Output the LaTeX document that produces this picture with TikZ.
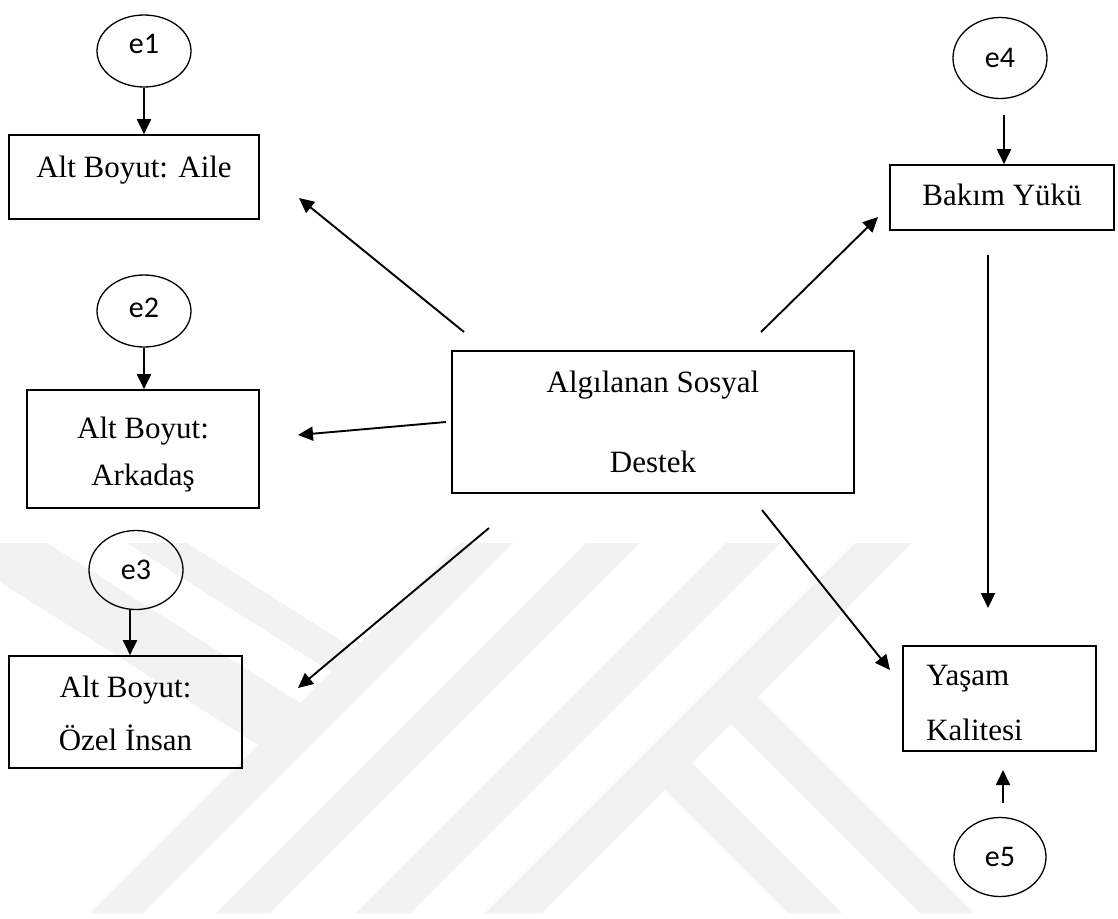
\documentclass[tikz,border=0pt]{standalone}
\usepackage{fontspec}
\setmainfont{Liberation Serif}
\newfontfamily\calib{Carlito}
\usetikzlibrary{arrows.meta,shapes.geometric}
\begin{document}
\begin{tikzpicture}[x=1pt,y=-1pt,
  box/.style={draw, line width=1.6pt, inner sep=0pt, font=\fontsize{31}{37}\selectfont},
  err/.style={draw, ellipse, line width=1.3pt, inner sep=0pt, font=\calib\fontsize{30}{34}\selectfont},
  arr/.style={line width=1.9pt, -{Triangle[length=15pt,width=14pt]}},
  wm/.style={fill=black!5, draw=none}
]
\useasboundingbox (0,0) rectangle (1118,918);
% watermark (faint logo)
\fill[wm] (0,543) -- (47,543) -- (313,711) -- (271,753) -- (0,582) -- cycle;
\fill[wm] (127,543) -- (187,543) -- (367,657) -- (344,680) -- cycle;
\fill[wm] (460,543) -- (513,543) -- (143,913) -- (90,913) -- cycle;
\fill[wm] (586,543) -- (640,543) -- (270,913) -- (216,913) -- cycle;
\fill[wm] (726,543) -- (780,543) -- (410,913) -- (356,913) -- cycle;
\fill[wm] (855,543) -- (912,543) -- (542,913) -- (485,913) -- cycle;
\fill[wm] (745,684) -- (974,913) -- (920,913) -- (718,711) -- cycle;
\fill[wm] (680,751) -- (842,913) -- (788,913) -- (653,778) -- cycle;

% boxes
\node[box, minimum width=250pt, minimum height=84pt, text height=21pt, text depth=21pt] (aile) at (134,177) {Alt Boyut: Aile};
\node[box, minimum width=232pt, minimum height=118pt, text height=82pt, text depth=10pt] (ark) at (143,449)
  {\begin{tabular}[b]{@{}c@{}}Alt Boyut:\\[10pt]Arkadaş\end{tabular}};
\node[box, minimum width=233pt, minimum height=112pt, text height=86pt, text depth=10pt] (ozel) at (125.5,712)
  {\begin{tabular}[b]{@{}c@{}}Alt Boyut:\\[16pt]Özel İnsan\end{tabular}};
\node[box, minimum width=402pt, minimum height=142pt, text height=110pt, text depth=10pt] (merkez) at (653,422)
  {\begin{tabular}[b]{@{}c@{}}Algılanan Sosyal\\[43pt]Destek\end{tabular}};
\node[box, minimum width=224pt, minimum height=65pt, text height=21pt, text depth=6pt] (bakim) at (1002,197.5) {Bakım Yükü};
\node[box, minimum width=193pt, minimum height=105pt, text height=93pt, text depth=10pt] (yasam) at (999.5,698.5)
  {\begin{tabular}[b]{@{}l@{\hspace{50pt}}}Yaşam\\[18pt]Kalitesi\end{tabular}};

% error terms
\node[err, minimum width=94pt, minimum height=72pt, text depth=15pt] (e1) at (144,51) {e1};
\node[err, minimum width=94pt, minimum height=72pt, text depth=7pt] (e2) at (144,311) {e2};
\node[err, minimum width=94pt, minimum height=79pt] (e3) at (136,570) {e3};
\node[err, minimum width=94pt, minimum height=81pt] (e4) at (1000,58) {e4};
\node[err, minimum width=92pt, minimum height=79pt] (e5) at (1000,857) {e5};

% free connector ends
\coordinate (m-aile) at (464,332);  \coordinate (t-aile) at (299,198);
\coordinate (m-ark)  at (446,422);  \coordinate (t-ark)  at (298,435);
\coordinate (m-ozel) at (489,528);  \coordinate (t-ozel) at (298,688);
\coordinate (m-bak)  at (761,332);  \coordinate (t-bak)  at (878,217);
\coordinate (m-yas)  at (762,510);  \coordinate (t-yas)  at (890,670);
\coordinate (b-top)  at (988,255);  \coordinate (b-bot)  at (988,608);
\coordinate (e4a) at (1004,115);
\coordinate (e5a) at (1003,803);    \coordinate (e5b) at (1003,770);

% connectors
\draw[arr] (e1.south) -- (e1.south |- aile.north);
\draw[arr] (e2.south) -- (e2.south |- ark.north);
\draw[arr] ([xshift=-6pt]e3.south) -- ([xshift=-6pt]e3.south |- ozel.north);
\draw[arr] (e4a) -- (e4a |- bakim.north);
\draw[arr] (e5a) -- (e5b);
\draw[arr] (m-aile) -- (t-aile);
\draw[arr] (m-ark) -- (t-ark);
\draw[arr] (m-ozel) -- (t-ozel);
\draw[arr] (m-bak) -- (t-bak);
\draw[arr] (m-yas) -- (t-yas);
\draw[arr] (b-top) -- (b-bot);
\end{tikzpicture}
\end{document}
